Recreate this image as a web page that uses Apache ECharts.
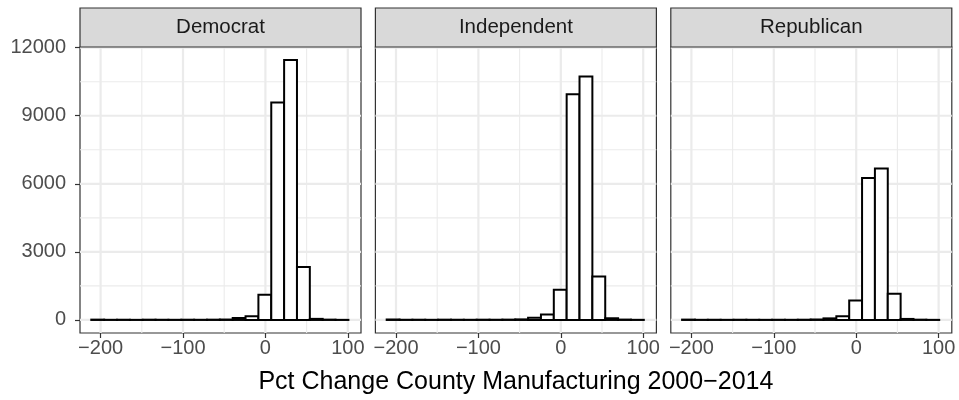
<!DOCTYPE html>
<html>
<head>
<meta charset="utf-8">
<script src="https://cdn.jsdelivr.net/npm/echarts@6/dist/echarts.min.js"></script>
<style>
  html, body { margin: 0; padding: 0; background: #ffffff; }
  #chart { width: 959px; height: 400px; }
</style>
</head>
<body>
<div id="chart"></div>
<script>
// Facet labels (party)
const parties = ['Democrat', 'Independent', 'Republican'];

// Histogram bin edges (20 equal-width bins, pct change)
const binEdges = [-211.3, -195.7, -180.1, -164.5, -148.9, -133.3, -117.7, -102.1, -86.5, -70.9,
                  -55.3, -39.7, -24.1, -8.5, 7.1, 22.7, 38.3, 53.9, 69.5, 85.1, 100.7];

// Counts per bin for each facet
const democratCounts    = [14, 6, 9, 4, 11, 8, 6, 10, 7, 12, 18, 85, 165, 1110, 9580, 11455, 2330, 48, 14, 4];
const independentCounts = [20, 8, 10, 6, 12, 9, 7, 11, 9, 14, 25, 95, 245, 1330, 9945, 10725, 1915, 75, 16, 5];
const republicanCounts  = [15, 6, 8, 5, 9, 7, 5, 8, 6, 10, 20, 70, 160, 860, 6255, 6680, 1155, 45, 12, 4];

// Axis ticks
const xTicks = [-200, -100, 0, 100];
const xMinorTicks = [-150, -50, 50];
const yTicks = [0, 3000, 6000, 9000, 12000];
const yMinorTicks = [1500, 4500, 7500, 10500];

const xTitle = 'Pct Change County Manufacturing 2000\u22122014';

const countsByParty = [democratCounts, independentCounts, republicanCounts];

const FONT = 'Liberation Sans, Arial, Helvetica, sans-serif';
const panelLeft = [80, 375.4, 670.8];
const panelWidth = 281;
const panelTop = 47;
const panelHeight = 286;
const stripTop = 8;
const X_MIN = -225, X_MAX = 116;
const Y_MIN = -575, Y_MAX = 12030;

const chart = echarts.init(document.getElementById('chart'), null, { renderer: 'canvas' });

const minus = v => String(v).replace('-', '\u2212');

const grids = [], xAxes = [], yAxes = [], series = [], graphics = [];

parties.forEach((party, i) => {
  grids.push({
    left: panelLeft[i], top: panelTop, width: panelWidth, height: panelHeight,
    show: true, backgroundColor: '#ffffff', borderColor: '#333333', borderWidth: 1.2,
    containLabel: false
  });
  xAxes.push({
    type: 'value', gridIndex: i, min: X_MIN, max: X_MAX,
    axisLine: { show: false, onZero: false },
    axisTick: { show: true, customValues: xTicks, length: 5, lineStyle: { color: '#333333', width: 1.2 } },
    axisLabel: { show: true, customValues: xTicks, formatter: minus, color: '#4D4D4D',
                 fontSize: 20, fontFamily: FONT, margin: 5 },
    splitLine: { show: false }
  });
  yAxes.push({
    type: 'value', gridIndex: i, min: Y_MIN, max: Y_MAX,
    axisLine: { show: false, onZero: false },
    axisTick: { show: i === 0, customValues: yTicks, length: 5, lineStyle: { color: '#333333', width: 1.2 } },
    axisLabel: { show: i === 0, customValues: yTicks, formatter: v => String(v), color: '#4D4D4D',
                 fontSize: 20, fontFamily: FONT, margin: 14 },
    splitLine: { show: false }
  });

  // background grid lines (major and minor)
  const gridData = [];
  xTicks.forEach(v => gridData.push([v, 1, 0]));
  xMinorTicks.forEach(v => gridData.push([v, 0, 0]));
  yTicks.forEach(v => gridData.push([v, 1, 1]));
  yMinorTicks.forEach(v => gridData.push([v, 0, 1]));
  series.push({
    type: 'custom', xAxisIndex: i, yAxisIndex: i, z: 1, silent: true,
    data: gridData,
    encode: { x: -1, y: -1 },
    renderItem: (params, api) => {
      const v = api.value(0), major = api.value(1), horiz = api.value(2);
      const cs = params.coordSys;
      let shape;
      if (horiz) {
        const y = api.coord([0, v])[1];
        shape = { x1: cs.x, y1: y, x2: cs.x + cs.width, y2: y };
      } else {
        const x = api.coord([v, 0])[0];
        shape = { x1: x, y1: cs.y, x2: x, y2: cs.y + cs.height };
      }
      return { type: 'line', shape, style: { stroke: '#EBEBEB', lineWidth: major ? 2.2 : 1.1 } };
    }
  });

  // histogram bars
  const counts = countsByParty[i];
  const barData = counts.map((c, k) => [binEdges[k], binEdges[k + 1], c]);
  series.push({
    type: 'custom', xAxisIndex: i, yAxisIndex: i, z: 2, silent: true,
    data: barData,
    encode: { x: [0, 1], y: 2 },
    renderItem: (params, api) => {
      const top = api.coord([api.value(0), api.value(2)]);
      const bot = api.coord([api.value(1), 0]);
      return {
        type: 'rect',
        shape: { x: top[0], y: top[1], width: bot[0] - top[0], height: bot[1] - top[1] },
        style: { fill: '#ffffff', stroke: '#000000', lineWidth: 2, lineJoin: 'miter' }
      };
    }
  });

  // facet strip
  graphics.push({
    type: 'rect', z: 10,
    shape: { x: panelLeft[i], y: stripTop, width: panelWidth, height: panelTop - stripTop },
    style: { fill: '#D9D9D9', stroke: '#333333', lineWidth: 1.2 }
  });
  graphics.push({
    type: 'text', z: 11,
    x: panelLeft[i] + panelWidth / 2, y: (stripTop + panelTop) / 2,
    style: { text: party, fill: '#1A1A1A', font: '20.5px ' + FONT, align: 'center', verticalAlign: 'middle' }
  });
});

graphics.push({
  type: 'text', z: 11,
  x: (panelLeft[0] + panelLeft[2] + panelWidth) / 2, y: 382,
  style: { text: xTitle, fill: '#000000', font: '25px ' + FONT, align: 'center', verticalAlign: 'middle' }
});

chart.setOption({
  backgroundColor: '#ffffff',
  animation: false,
  grid: grids,
  xAxis: xAxes,
  yAxis: yAxes,
  series: series,
  graphic: graphics
});
</script>
</body>
</html>
